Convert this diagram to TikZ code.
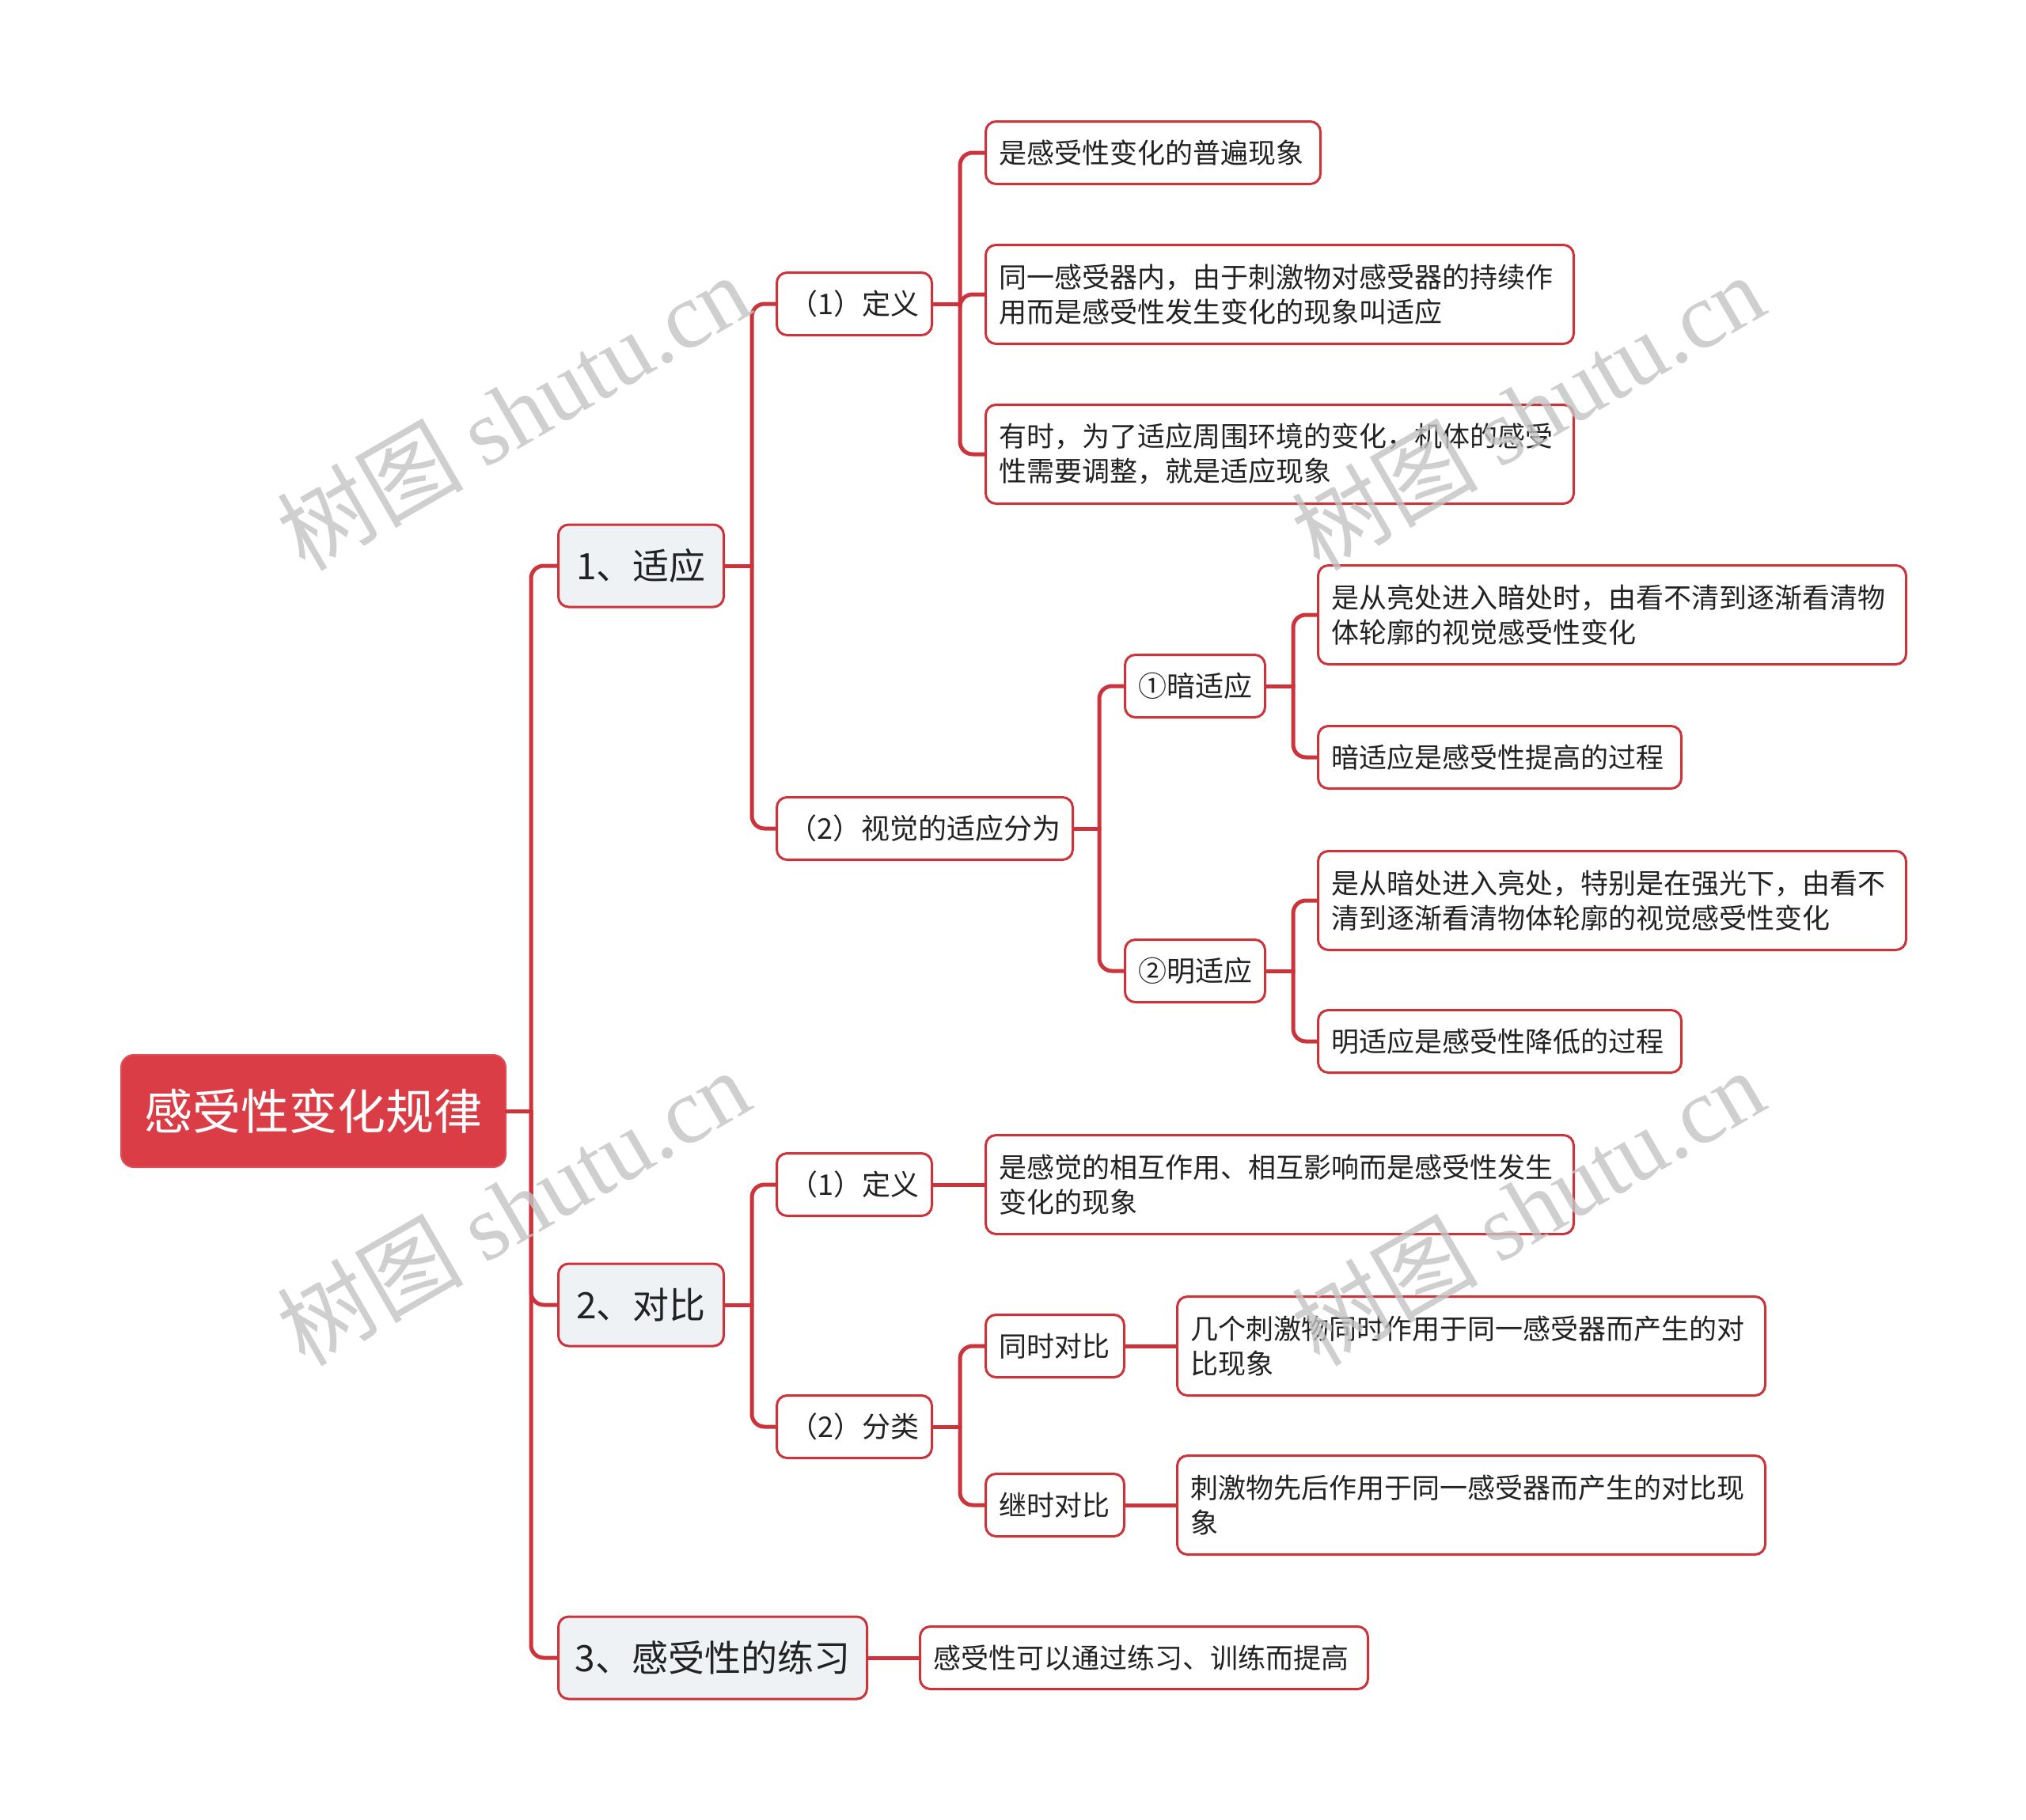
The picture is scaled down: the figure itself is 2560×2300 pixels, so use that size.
\documentclass[tikz,border=0pt]{standalone}
\usepackage{fontspec}
\setmainfont{Noto Sans CJK SC}
\newfontfamily\wmserif{Liberation Serif}
\usetikzlibrary{calc}
\definecolor{lc}{RGB}{204,52,60}
\definecolor{rootfill}{RGB}{218,61,69}
\definecolor{lvfill}{RGB}{239,242,245}
\definecolor{txt}{RGB}{34,34,34}
\definecolor{wmc}{RGB}{195,195,195}
\tikzset{
  base/.style={draw=lc, line width=3pt, rounded corners=13pt, anchor=west, text=txt, inner ysep=0pt},
  leaf/.style={base, fill=white, inner xsep=17pt, align=left, minimum height=79pt, font=\fontsize{35}{44}\selectfont},
  mid/.style={base, fill=white, inner xsep=6pt, align=center, minimum height=79pt, font=\fontsize{36}{44}\selectfont},
  lvone/.style={base, fill=lvfill, inner xsep=6pt, align=center, minimum height=104pt, font=\fontsize{46}{54}\selectfont},
  rootbox/.style={draw=rootfill!90!white, line width=2pt, fill=rootfill, rounded corners=16pt, anchor=west, text=white, inner xsep=6pt, align=center, minimum height=142pt, font=\fontsize{61}{70}\selectfont},
  conn/.style={draw=lc, line width=5pt, line cap=round},
  elbow/.style={conn, rounded corners=16pt},
  wm/.style={text=wmc, text opacity=0.8, font=\fontsize{118}{124}\selectfont, rotate=30, inner sep=0pt}
}
\begin{document}
\begin{tikzpicture}[x=1pt, y=-1pt]
\useasboundingbox (0,0) rectangle (2560,2300);
\fill[white] (0,0) rectangle (2560,2300);

% root and level one
\node[rootbox, text width=474pt] (root) at (152,1404) {感受性变化规律};
\node[lvone, text width=197pt] (n1) at (704,715) {1、适应};
\node[lvone, text width=197pt] (n2) at (704,1649) {2、对比};
\node[lvone, text width=378pt] (n3) at (704,2095) {3、感受性的练习};

% branch 1
\node[mid, text width=184pt] (n1a) at (980,384) {（1）定义};
\node[mid, text width=362pt] (n1b) at (980,1047) {（2）视觉的适应分为};
\node[leaf, text width=389pt] (l1) at (1244,193) {是感受性变化的普遍现象};
\node[leaf, text width=709pt, minimum height=125pt] (l2) at (1244,372) {同一感受器内，由于刺激物对感受器的持续作\\用而是感受性发生变化的现象叫适应};
\node[leaf, text width=709pt, minimum height=125pt] (l3) at (1244,574) {有时，为了适应周围环境的变化，机体的感受\\性需要调整，就是适应现象};
\node[mid, text width=165pt] (dark) at (1420,867) {①暗适应};
\node[mid, text width=165pt] (light) at (1420,1227) {②明适应};
\node[leaf, text width=709pt, minimum height=125pt] (d1) at (1664,777) {是从亮处进入暗处时，由看不清到逐渐看清物\\体轮廓的视觉感受性变化};
\node[leaf, text width=425pt] (d2) at (1664,957) {暗适应是感受性提高的过程};
\node[leaf, text width=709pt, minimum height=125pt] (b1) at (1664,1138) {是从暗处进入亮处，特别是在强光下，由看不\\清到逐渐看清物体轮廓的视觉感受性变化};
\node[leaf, text width=425pt] (b2) at (1664,1316) {明适应是感受性降低的过程};

% branch 2
\node[mid, text width=184pt] (n2a) at (980,1497) {（1）定义};
\node[mid, text width=184pt] (n2b) at (980,1803) {（2）分类};
\node[leaf, text width=709pt, minimum height=125pt] (c1) at (1244,1497) {是感觉的相互作用、相互影响而是感受性发生\\变化的现象};
\node[leaf, text width=141pt] (s1) at (1244,1701) {同时对比};
\node[leaf, text width=141pt] (s2) at (1244,1902) {继时对比};
\node[leaf, text width=709pt, minimum height=125pt] (s1l) at (1486,1701) {几个刺激物同时作用于同一感受器而产生的对\\比现象};
\node[leaf, text width=709pt, minimum height=125pt] (s2l) at (1486,1902) {刺激物先后作用于同一感受器而产生的对比现\\象};

% branch 3
\node[leaf, text width=532pt] (n3l) at (1161,2095) {感受性可以通过练习、训练而提高};

% junctions
\coordinate (jr) at ($(root.east)+(31,0)$);
\coordinate (j1) at ($(n1.east)+(34,0)$);
\coordinate (j2) at ($(n2.east)+(34,0)$);
\coordinate (j1a) at ($(n1a.east)+(34,0)$);
\coordinate (j1b) at ($(n1b.east)+(32,0)$);
\coordinate (jd) at ($(dark.east)+(34,0)$);
\coordinate (jl) at ($(light.east)+(34,0)$);
\coordinate (j2b) at ($(n2b.east)+(34,0)$);

\draw[conn] (root.east) -- (jr);
\draw[elbow] (jr) |- (n1.west);
\draw[elbow] (jr) |- (n2.west);
\draw[elbow] (jr) |- (n3.west);

\draw[conn] (n1.east) -- (j1);
\draw[elbow] (j1) |- (n1a.west);
\draw[elbow] (j1) |- (n1b.west);

\draw[conn] (n1a.east) -- (j1a);
\draw[elbow] (j1a) |- (l1.west);
\draw[elbow] (j1a) |- (l2.west);
\draw[elbow] (j1a) |- (l3.west);

\draw[conn] (n1b.east) -- (j1b);
\draw[elbow] (j1b) |- (dark.west);
\draw[elbow] (j1b) |- (light.west);

\draw[conn] (dark.east) -- (jd);
\draw[elbow] (jd) |- (d1.west);
\draw[elbow] (jd) |- (d2.west);

\draw[conn] (light.east) -- (jl);
\draw[elbow] (jl) |- (b1.west);
\draw[elbow] (jl) |- (b2.west);

\draw[conn] (n2.east) -- (j2);
\draw[elbow] (j2) |- (n2a.west);
\draw[elbow] (j2) |- (n2b.west);

\draw[conn] (n2a.east) -- (c1.west);
\draw[conn] (n2b.east) -- (j2b);
\draw[elbow] (j2b) |- (s1.west);
\draw[elbow] (j2b) |- (s2.west);
\draw[conn] (s1.east) -- (s1l.west);
\draw[conn] (s2.east) -- (s2l.west);

\draw[conn] (n3.east) -- (n3l.west);

% watermarks
\node[wm] (wm1) at (648,520) {树图 {\wmserif shutu.cn}};
\node[wm] (wm2) at (1930,520) {树图 {\wmserif shutu.cn}};
\node[wm] (wm3) at (648,1525) {树图 {\wmserif shutu.cn}};
\node[wm] (wm4) at (1930,1525) {树图 {\wmserif shutu.cn}};
\end{tikzpicture}
\end{document}
